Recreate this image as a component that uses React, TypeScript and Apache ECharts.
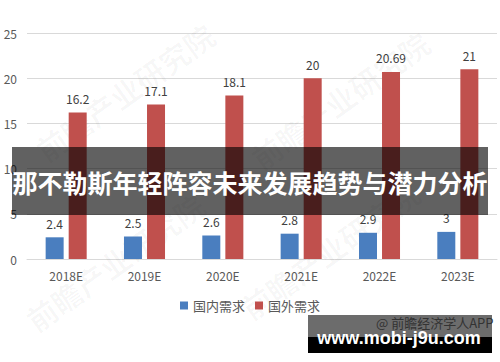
import React, { useEffect, useRef } from "react";
import * as echarts from "echarts";

const categories = ["2018E", "2019E", "2020E", "2021E", "2022E", "2023E"];
const domestic = [2.4, 2.5, 2.6, 2.8, 2.9, 3];
const foreign = [16.2, 17.1, 18.1, 20, 20.69, 21];
const seriesNames = ["国内需求", "国外需求"];
const title = "那不勒斯年轻阵容未来发展趋势与潜力分析";
const watermarkText = "前瞻产业研究院";
const sourceText = "@ 前瞻经济学人APP";
const urlText = "www.mobi-j9u.com";

const FONT = "'Noto Sans CJK SC', 'Noto Sans', sans-serif";

export default function App() {
  const ref = useRef<HTMLDivElement>(null);
  useEffect(() => {
    if (!ref.current) return;
    const chart = echarts.init(ref.current, null, { renderer: "svg" });
    const wm = (x: number, y: number) => ({
      type: "text",
      x,
      y,
      rotation: 0.62,
      z: 1,
      silent: true,
      style: {
        text: watermarkText,
        font: `bold 30px ${FONT}`,
        fill: "rgba(0,0,0,0.03)",
        align: "center",
        verticalAlign: "middle",
      },
    });
    chart.setOption({
      animation: false,
      backgroundColor: "#ffffff",
      textStyle: { fontFamily: FONT },
      grid: { left: 27, right: 3, top: 33, bottom: 103, containLabel: false },
      legend: {
        data: seriesNames,
        top: 294,
        left: "center",
        itemWidth: 8,
        itemHeight: 8,
        itemGap: 10,
        icon: "rect",
        textStyle: { fontSize: 13, color: "#595959", fontFamily: FONT },
      },
      xAxis: {
        type: "category",
        data: categories,
        axisLine: { lineStyle: { color: "#d9d9d9" } },
        axisTick: { show: false },
        axisLabel: { color: "#595959", fontSize: 12, margin: 10, fontFamily: FONT },
      },
      yAxis: {
        type: "value",
        min: 0,
        max: 25,
        interval: 5,
        axisLine: { show: false },
        axisTick: { show: false },
        splitLine: { lineStyle: { color: "#d9d9d9" } },
        axisLabel: { color: "#595959", fontSize: 12, margin: 10, fontFamily: FONT },
      },
      series: [
        {
          name: seriesNames[0],
          type: "bar",
          data: domestic,
          barWidth: 18,
          barGap: "28%",
          itemStyle: { color: "#4a7ebf" },
          label: { show: true, position: "top", distance: 8, color: "#404040", fontSize: 12, fontFamily: FONT },
        },
        {
          name: seriesNames[1],
          type: "bar",
          data: foreign,
          barWidth: 18,
          itemStyle: { color: "#c0504d" },
          label: { show: true, position: "top", distance: 8, color: "#404040", fontSize: 12, fontFamily: FONT },
        },
      ],
      graphic: [
        wm(125, 92),
        wm(340, 100),
        wm(115, 262),
        wm(330, 250),
        {
          type: "rect",
          z: 100,
          shape: { x: 12, y: 147, width: 476, height: 68 },
          style: { fill: "rgba(0,0,0,0.62)" },
        },
        {
          type: "text",
          z: 101,
          x: 250,
          y: 182,
          style: {
            text: title,
            font: `bold 25px ${FONT}`,
            fill: "#ffffff",
            align: "center",
            verticalAlign: "middle",
          },
        },
        {
          type: "rect",
          z: 100,
          shape: { x: 308, y: 315, width: 184, height: 22 },
          style: { fill: "#6c6c6c" },
        },
        {
          type: "text",
          z: 101,
          x: 376,
          y: 322,
          style: {
            text: sourceText,
            font: `13px ${FONT}`,
            fill: "#333333",
            align: "left",
            verticalAlign: "middle",
          },
        },
        {
          type: "rect",
          z: 100,
          shape: { x: 308, y: 337, width: 184, height: 16 },
          style: { fill: "#000000" },
        },
        {
          type: "text",
          z: 102,
          x: 399,
          y: 338,
          style: {
            text: urlText,
            font: `bold 18px 'Liberation Sans', Arial, sans-serif`,
            fill: "#ffffff",
            align: "center",
            verticalAlign: "middle",
          },
        },
      ],
    });
    return () => chart.dispose();
  }, []);
  return (
    <div
      ref={ref}
      style={{ position: "fixed", left: 0, top: 0, width: 500, height: 362 }}
    />
  );
}
